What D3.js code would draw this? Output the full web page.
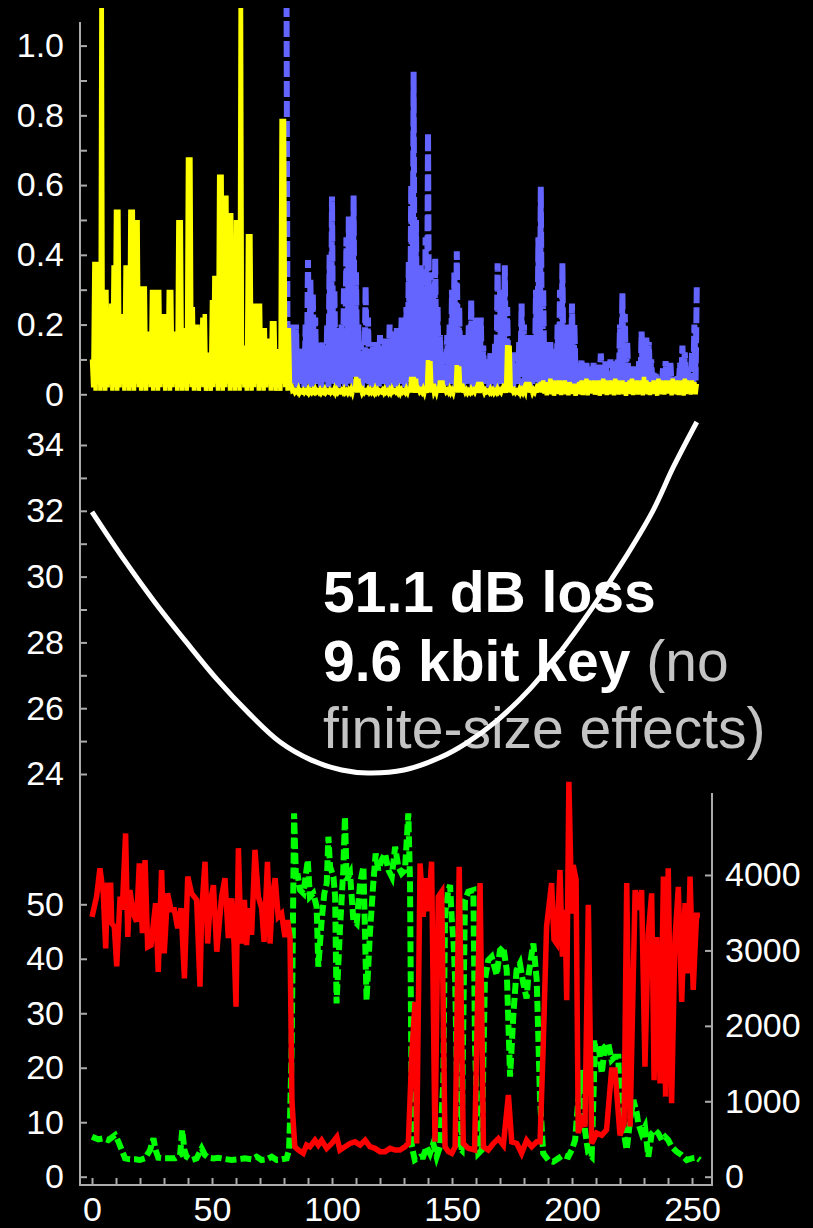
<!DOCTYPE html>
<html>
<head>
<meta charset="utf-8">
<script src="https://cdn.jsdelivr.net/npm/d3@7"></script>
<style>
  html, body { margin: 0; padding: 0; background: #000; }
  svg { display: block; }
</style>
</head>
<body>
<div id="chart"></div>
<script>
// ---- data ----
// top panel, yellow: upper value at each integer x (0..252), lower value at x + 0.5
var yellowHi = [
  0.10,0.38,0.38,0.19,1.3,0.30,0.30,0.14,0.26,0.37,
  0.53,0.53,0.16,0.23,0.37,0.37,0.53,0.53,0.50,0.50,
  0.14,0.31,0.31,0.18,0.18,0.30,0.30,0.30,0.30,0.23,
  0.23,0.23,0.30,0.30,0.18,0.18,0.50,0.50,0.19,0.19,
  0.68,0.68,0.25,0.20,0.20,0.11,0.22,0.23,0.12,0.12,
  0.27,0.34,0.34,0.63,0.63,0.57,0.57,0.52,0.52,0.37,
  0.50,0.50,1.3,0.14,0.14,0.46,0.46,0.21,0.26,0.26,
  0.26,0.19,0.19,0.16,0.16,0.21,0.21,0.13,0.13,0.79,
  0.79,0.19,0.19,0.03,0.012,0.010,0.015,0.010,0.012,0.010,
  0.014,0.010,0.012,0.015,0.010,0.012,0.010,0.014,0.010,0.012,
  0.010,0.015,0.012,0.010,0.012,0.014,0.010,0.012,0.015,0.020,
  0.050,0.045,0.015,0.012,0.010,0.014,0.012,0.010,0.015,0.012,
  0.010,0.012,0.014,0.010,0.012,0.015,0.010,0.012,0.014,0.012,
  0.010,0.015,0.020,0.050,0.050,0.045,0.015,0.012,0.015,0.020,
  0.098,0.095,0.030,0.015,0.020,0.040,0.040,0.015,0.012,0.015,
  0.012,0.020,0.084,0.080,0.030,0.015,0.012,0.010,0.014,0.012,
  0.015,0.035,0.035,0.015,0.012,0.010,0.014,0.012,0.010,0.015,
  0.012,0.015,0.030,0.141,0.140,0.015,0.012,0.010,0.014,0.012,
  0.015,0.035,0.035,0.015,0.012,0.015,0.030,0.035,0.040,0.030,
  0.035,0.045,0.040,0.035,0.040,0.040,0.035,0.040,0.030,0.035,
  0.030,0.025,0.030,0.035,0.040,0.035,0.045,0.040,0.035,0.040,
  0.030,0.040,0.035,0.045,0.040,0.035,0.040,0.035,0.045,0.040,
  0.035,0.040,0.030,0.035,0.040,0.045,0.035,0.040,0.035,0.040,
  0.050,0.040,0.035,0.030,0.040,0.035,0.045,0.040,0.035,0.040,
  0.035,0.040,0.045,0.035,0.040,0.035,0.040,0.045,0.040,0.035,
  0.040,0.035,0.030
];
var yellowLo = [
  0.02,0.01,0.03,0.01,0.02,0.01,0.02,0.03,0.01,0.02,
  0.01,0.02,0.03,0.01,0.02,0.01,0.02,0.01,0.03,0.02,
  0.01,0.02,0.01,0.03,0.02,0.01,0.02,0.01,0.02,0.03,
  0.01,0.02,0.01,0.02,0.03,0.01,0.02,0.01,0.02,0.01,
  0.03,0.02,0.01,0.02,0.01,0.03,0.02,0.01,0.02,0.01,
  0.02,0.03,0.01,0.02,0.01,0.02,0.03,0.01,0.02,0.01,
  0.02,0.01,0.03,0.02,0.01,0.02,0.01,0.02,0.03,0.01,
  0.02,0.01,0.02,0.03,0.01,0.02,0.01,0.02,0.01,0.03,
  0.02,0.01,0.02,0.01,0.005,0.006,0.004,0.007,0.005,0.006,
  0.004,0.005,0.007,0.006,0.005,0.004,0.006,0.005,0.007,0.005,
  0.006,0.004,0.005,0.007,0.006,0.005,0.004,0.006,0.005,0.007,
  0.005,0.006,0.004,0.005,0.007,0.006,0.005,0.004,0.006,0.005,
  0.007,0.005,0.006,0.004,0.005,0.007,0.006,0.005,0.004,0.006,
  0.005,0.007,0.005,0.006,0.004,0.005,0.007,0.006,0.005,0.004,
  0.006,0.005,0.007,0.005,0.006,0.004,0.005,0.007,0.006,0.005,
  0.004,0.006,0.005,0.007,0.005,0.006,0.004,0.005,0.007,0.006,
  0.005,0.004,0.006,0.005,0.007,0.005,0.006,0.004,0.005,0.007,
  0.006,0.005,0.004,0.006,0.005,0.007,0.005,0.006,0.004,0.005,
  0.007,0.006,0.005,0.004,0.006,0.005,0.007,0.005,0.002,-0.003,
  0.005,0.000,-0.004,0.004,0.001,-0.002,0.006,0.000,-0.003,0.003,
  0.001,-0.004,0.005,0.000,-0.002,0.004,-0.003,0.002,0.006,-0.001,
  0.003,-0.004,0.001,0.005,-0.002,0.000,0.004,-0.003,0.002,-0.001,
  0.005,0.000,-0.004,0.003,0.001,-0.002,0.006,-0.001,0.002,-0.003,
  0.004,0.000,-0.002,0.005,0.001,-0.004,0.003,0.000,-0.001,0.004,
  0.002,-0.003,0.005,0.000,-0.002,0.003,-0.004,0.001,0.004,-0.001,
  0.002,0.000
];
// top panel, blue dashed: starts at x = 81
var blueStart = 81;
var blueHi = [
  1.3,0.2,0.2,0.19,0.2,0.13,0.12,0.13,0.2,0.385,
  0.33,0.29,0.22,0.15,0.12,0.15,0.1,0.2,0.4,0.567,
  0.3,0.19,0.17,0.2,0.31,0.45,0.51,0.4,0.57,0.35,
  0.2,0.15,0.12,0.31,0.22,0.12,0.15,0.13,0.15,0.17,
  0.14,0.16,0.12,0.2,0.18,0.14,0.19,0.17,0.22,0.2,
  0.25,0.38,0.6,0.925,0.5,0.3,0.37,0.31,0.45,0.75,
  0.35,0.3,0.39,0.25,0.17,0.12,0.08,0.17,0.2,0.3,
  0.35,0.41,0.25,0.17,0.12,0.17,0.2,0.27,0.18,0.22,
  0.2,0.22,0.14,0.1,0.08,0.12,0.08,0.15,0.376,0.3,
  0.15,0.37,0.25,0.12,0.1,0.12,0.09,0.15,0.26,0.2,
  0.12,0.17,0.14,0.17,0.3,0.45,0.595,0.3,0.15,0.12,
  0.15,0.1,0.13,0.2,0.3,0.376,0.2,0.12,0.2,0.26,
  0.2,0.09,0.08,0.1,0.07,0.09,0.06,0.08,0.09,0.06,
  0.09,0.117,0.07,0.1,0.06,0.1,0.08,0.1,0.1,0.2,
  0.29,0.23,0.15,0.08,0.06,0.08,0.05,0.1,0.18,0.12,
  0.165,0.15,0.1,0.06,0.05,0.04,0.05,0.08,0.095,0.07,
  0.09,0.05,0.04,0.05,0.09,0.14,0.12,0.08,0.05,0.12,
  0.2,0.31
];
var blueLo = [
  0.03,0.02,0.04,0.03,0.02,0.05,0.03,0.02,0.04,0.03,
  0.02,0.04,0.03,0.05,0.02,0.03,0.04,0.02,0.03,0.05,
  0.03,0.02,0.04,0.03,0.02,0.04,0.03,0.05,0.02,0.03,
  0.04,0.02,0.03,0.05,0.03,0.02,0.04,0.03,0.02,0.04,
  0.03,0.05,0.02,0.03,0.04,0.02,0.03,0.05,0.03,0.02,
  0.04,0.03,0.02,0.04,0.03,0.05,0.02,0.03,0.04,0.02,
  0.03,0.05,0.03,0.02,0.04,0.03,0.02,0.04,0.03,0.05,
  0.02,0.03,0.04,0.02,0.03,0.05,0.03,0.02,0.04,0.03,
  0.02,0.04,0.03,0.05,0.02,0.03,0.04,0.02,0.03,0.05,
  0.03,0.02,0.04,0.03,0.02,0.04,0.03,0.05,0.02,0.03,
  0.04,0.02,0.03,0.05,0.03,0.02,0.04,0.03,0.02,0.04,
  0.03,0.05,0.02,0.03,0.04,0.02,0.03,0.05,0.03,0.02,
  0.04,0.03,0.02,0.04,0.03,0.05,0.02,0.03,0.04,0.02,
  0.03,0.05,0.03,0.02,0.04,0.03,0.02,0.04,0.03,0.05,
  0.02,0.03,0.04,0.02,0.03,0.05,0.03,0.02,0.04,0.03,
  0.02,0.04,0.03,0.05,0.02,0.03,0.04,0.02,0.03,0.05,
  0.03,0.02,0.04,0.03,0.02,0.04,0.03,0.05,0.02,0.03,
  0.04
];

// middle panel, white curve
var curveX = [0, 13.5, 26.4, 39.4, 52.3, 65.3, 78.2, 91.2, 104, 115, 130, 145, 156, 169, 182, 194.8, 207.8, 220.7, 233.7, 242.3, 252];
var curveY = [31.97, 30.5, 29.2, 28.0, 26.86, 25.85, 24.98, 24.43, 24.12, 24.03, 24.12, 24.5, 24.94, 25.64, 26.55, 27.68, 28.98, 30.4, 32.0, 33.34, 34.7];

// bottom panel, red (left axis)
var redX = [0,1.9,3.3,4.7,5.7,6.5,7.8,8.2,9.3,10.3,11.7,12.6,14,14.9,15.8,17.2,18.6,19.7,21,22.1,
  23.2,24.6,26.5,27.6,29,30.1,31.5,32.9,34.3,35.7,37.1,38.5,39.9,41.5,43.6,45,45.7,47.1,48.2,49.2,
  50.6,52,54,55.4,56.8,58.2,59.2,60,61,62.1,63.5,64.4,65.4,66.5,67.9,69.3,70.7,71.7,73.1,74.2,
  75.1,76.3,77.6,79,80.4,81.5,82.5,83.3,83.7,84.5,86,88,89.4,90.8,92.9,94.3,95.7,97.8,99.9,102,
  103.3,105.4,107.5,109.6,111.7,113.8,115.8,117.9,120,122.1,124.2,126.3,128.3,130.4,131.8,133.2,134.6,135.3,136.7,138,
  139.2,140.1,141.5,142.9,144.3,145.7,147.1,148.5,149.9,151.3,153,154.7,156.8,159.4,161.7,163.1,165.1,167.2,169.3,171.4,
  173.5,174.9,177,179,181.1,183.2,185.3,186.7,188,189.4,191.5,192.5,193.6,195,196,197.1,197.8,198.7,199.9,200.5,
  201.7,202.6,204,205.4,206.8,208.2,210.3,212.4,214.4,216.5,217.9,220,221.7,222.8,224.2,226.3,227.6,229,230.4,231.8,
  233.2,234.2,235.3,236.7,238.1,239,240.1,241.5,242.9,244.3,245.7,247.1,248.1,249.2,250.5,251.9,253.3];
var redY = [47.7,51.4,56.6,52,41.9,53.5,53.5,46.5,45.9,38.6,51.4,49,63,44,52.6,48.3,46.8,57.5,44.7,58.1,
  42.2,42.5,50.2,37.6,56.3,41,52,49,49,45.6,49.3,36.4,55.1,52,50.8,34.9,48.7,57.8,42.8,50.2,
  53.5,41.3,51.4,54.8,43.8,51.1,42.8,31.2,60.3,42.8,50.8,42.5,49.3,44.4,60,51.4,49.3,43.1,57.8,42.8,
  51.1,54.8,47.7,48.3,44,47.1,44,14,11,5.5,4.9,4.3,5.8,5.5,6.7,5.8,6.7,5.2,6.1,7.3,
  4.9,5.5,6.1,6.4,5.8,6.7,5.5,5.2,4.6,4.6,5.2,4.9,4.9,5.5,6.1,22,32.1,6.1,57.5,47.7,
  54.8,48.7,57.8,6.4,51.4,52.3,5.5,4.6,4.3,5.5,56.9,6.1,5.2,4.9,53.9,5.5,4.9,6.1,7,5.8,
  15,6.4,6.1,4.3,6.7,5.5,6.4,6.4,23.9,45.9,53.9,43.5,42.8,56.3,40.4,49,32.4,72.5,48.3,57.2,
  54.5,8,10.4,9.2,49.9,6.1,8,7.6,8.6,19.6,19.6,7.6,9.8,53.9,9.2,52.6,49,52.6,20.2,44.7,
  52,17.7,44,17.1,55.1,14.7,56.6,13.5,43.5,53.2,32.1,50.2,37.3,55.1,34.3,48,48];

// bottom panel, green dashed (right axis)
var greenX = [0,2.6,4.7,6.8,9.6,11,12.4,13.8,15.8,17.9,20,22.1,24.2,25.6,26.5,27.6,30.4,32.5,34.6,36.7,
  37.6,38.5,39.4,41.5,43.6,45.7,47.1,48.5,50.6,52.6,55.4,58.2,61,63.7,66.5,68.6,70.7,72.8,74.9,77,
  79,81.1,82.1,82.5,83.2,84.2,85,85.6,86.7,88.1,89,89.9,90.8,92.2,93.6,94.3,95.7,96.8,97.8,98.5,
  99.2,100.6,101.3,101.9,103.3,104.7,105.4,106.1,107.5,108.9,110.3,111.7,113.1,114.4,115.8,117.2,118.2,119.3,120.7,122.1,
  123.5,124.9,126.3,127.6,129,130.4,131.8,132.5,133.3,134.5,136.7,138,139.4,140.8,142.2,143.6,145,146.4,147.1,148.5,
  149.2,149.9,150.6,151.3,152.6,154,155.4,156.8,158.9,159.6,161,162.4,163.7,165.1,166.5,168.6,170,171.4,172.8,174.2,
  175.6,176.9,178.3,179.7,181.1,181.8,183.2,183.9,185.3,186.7,188,190.1,192.2,194.3,196.4,198.5,199.9,201.3,202.6,204,
  205.4,206.8,208.2,209.6,211,212.4,213.7,215.1,216.5,217.9,219.3,220,221.4,222.8,224.2,225.6,227,227.6,229,230.4,
  231.8,233.2,234.6,236,237.4,238.8,240.1,241.5,243.6,245.7,247.8,249.9,252,253.3];
var greenY = [530,495,508,486,552,464,354,243,230,230,221,243,354,508,354,252,243,243,243,287,
  619,354,265,221,243,376,287,252,243,252,234,221,230,243,230,265,221,230,265,221,
  230,243,354,751,1723,4817,3933,4020,3800,3756,3977,4198,3712,3756,3579,2784,3403,3756,3889,4507,
  4110,3977,3712,2298,3270,4065,4772,3933,4021,3403,3358,3889,4110,2342,3225,3889,4286,4065,4198,4286,
  4065,3977,4375,4110,4021,4065,4817,3933,398,221,265,265,398,309,442,265,398,1281,3491,3800,
  3867,3403,3137,2607,398,354,3668,3778,3800,1723,309,354,2607,2872,2917,2673,3005,3049,2740,1326,
  2165,2740,2828,2563,2364,2651,2961,3093,2607,1016,309,221,199,243,287,265,354,486,1016,1414,
  619,309,265,1768,1768,1370,1723,1768,1547,1591,1591,840,619,354,751,1016,840,707,574,663,
  265,574,619,574,486,530,486,398,331,287,221,243,252,221];

// tick values and labels
var topTicks = [0, 0.1, 0.2, 0.3, 0.4, 0.5, 0.6, 0.7, 0.8, 0.9, 1.0];
var topTickLabels = ["0", "", "0.2", "", "0.4", "", "0.6", "", "0.8", "", "1.0"];
var midTicks = [24, 25, 26, 27, 28, 29, 30, 31, 32, 33, 34];
var midTickLabels = ["24", "", "26", "", "28", "", "30", "", "32", "", "34"];
var leftTicks = [0, 10, 20, 30, 40, 50];
var rightTicks = [0, 1000, 2000, 3000, 4000];
var xTicks = [0,10,20,30,40,50,60,70,80,90,100,110,120,130,140,150,160,170,180,190,200,210,220,230,240,250];
var xTickLabels = ["0","","","","","50","","","","","100","","","","","150","","","","","200","","","","","250"];

// ---- drawing ----
var width = 813, height = 1228;
var font = "'Liberation Sans', Arial, Helvetica, sans-serif";
var axisColor = "#ababab";

var svg = d3.select("#chart")
  .append("svg")
    .attr("width", width)
    .attr("height", height)
    .style("background", "#000");

// scales (shared x, three y panels)
var x = d3.scaleLinear().domain([0, 250]).range([92, 692]);
var yTop = d3.scaleLinear().domain([0, 1]).range([394.3, 45.6]);
var yMid = d3.scaleLinear().domain([24, 34]).range([774, 445]);
var yLeft = d3.scaleLinear().domain([0, 50]).range([1176.7, 904.3]);
var yRight = d3.scaleLinear().domain([0, 4000]).range([1176.7, 875]);

svg.append("defs").append("clipPath").attr("id", "clipTop")
  .append("rect").attr("x", 80).attr("y", 8).attr("width", 632).attr("height", 412);

// zigzag points: value at x, then lower value at x + 0.5
function zigzag(x0, hi, lo) {
  var pts = [];
  hi.forEach(function (v, i) {
    pts.push([x0 + i, v]);
    if (i < lo.length) pts.push([x0 + i + 0.5, lo[i]]);
  });
  return pts;
}

var topLine = d3.line()
  .x(function (d) { return x(d[0]); })
  .y(function (d) { return yTop(d[1]); });

var topPanel = svg.append("g").attr("clip-path", "url(#clipTop)");
topPanel.append("path")
  .datum(zigzag(blueStart, blueHi, blueLo))
  .attr("d", topLine)
  .attr("fill", "none")
  .attr("stroke", "#6464ff")
  .attr("stroke-width", 6)
  .attr("stroke-dasharray", "16,4");
topPanel.append("path")
  .datum(zigzag(0, yellowHi, yellowLo))
  .attr("d", topLine)
  .attr("fill", "none")
  .attr("stroke", "#ffff00")
  .attr("stroke-width", 4.5);

// annotation
var note = svg.append("g")
  .style("font-family", font)
  .style("font-size", "57px");
note.append("text")
  .attr("x", 323).attr("y", 612)
  .attr("font-weight", "bold").attr("fill", "#fff")
  .text("51.1 dB loss");
var line2 = note.append("text").attr("x", 323).attr("y", 681);
line2.append("tspan").attr("font-weight", "bold").attr("fill", "#fff").text("9.6 kbit key");
line2.append("tspan").attr("fill", "#c4c4c4").text(" (no");
note.append("text")
  .attr("x", 323).attr("y", 748)
  .attr("fill", "#c4c4c4")
  .text("finite-size effects)");

// white curve
svg.append("path")
  .datum(curveX.map(function (v, i) { return [v, curveY[i]]; }))
  .attr("d", d3.line()
    .x(function (d) { return x(d[0]); })
    .y(function (d) { return yMid(d[1]); })
    .curve(d3.curveCatmullRom))
  .attr("fill", "none")
  .attr("stroke", "#fff")
  .attr("stroke-width", 5);

// bottom panel
svg.append("path")
  .datum(greenX.map(function (v, i) { return [v, greenY[i]]; }))
  .attr("d", d3.line()
    .x(function (d) { return x(d[0]); })
    .y(function (d) { return yRight(d[1]); }))
  .attr("fill", "none")
  .attr("stroke", "#00ff00")
  .attr("stroke-width", 6)
  .attr("stroke-dasharray", "11,4");
svg.append("path")
  .datum(redX.map(function (v, i) { return [v, redY[i]]; }))
  .attr("d", d3.line()
    .x(function (d) { return x(d[0]); })
    .y(function (d) { return yLeft(d[1]); }))
  .attr("fill", "none")
  .attr("stroke", "#ff0000")
  .attr("stroke-width", 5.5);

// axes
function styleAxis(g) {
  g.select(".domain").remove();
  g.selectAll(".tick line").attr("stroke", axisColor).attr("stroke-width", 2);
  g.selectAll(".tick text")
    .attr("fill", "#fff")
    .style("font-family", font)
    .style("font-size", "34px");
}

svg.append("g")
  .attr("transform", "translate(80,0)")
  .call(d3.axisLeft(yTop).tickValues(topTicks).tickSize(-7).tickPadding(16)
    .tickFormat(function (d, i) { return topTickLabels[i]; }))
  .call(styleAxis);
svg.append("g")
  .attr("transform", "translate(80,0)")
  .call(d3.axisLeft(yMid).tickValues(midTicks).tickSize(-7).tickPadding(16)
    .tickFormat(function (d, i) { return midTickLabels[i]; }))
  .call(styleAxis);
svg.append("g")
  .attr("transform", "translate(80,0)")
  .call(d3.axisLeft(yLeft).tickValues(leftTicks).tickSize(-7).tickPadding(16)
    .tickFormat(d3.format("d")))
  .call(styleAxis);
svg.append("g")
  .attr("transform", "translate(712,0)")
  .call(d3.axisRight(yRight).tickValues(rightTicks).tickSize(-7).tickPadding(13)
    .tickFormat(d3.format("d")))
  .call(styleAxis);
svg.append("g")
  .attr("transform", "translate(0,1185)")
  .call(d3.axisBottom(x).tickValues(xTicks).tickSize(-7).tickPadding(12)
    .tickFormat(function (d, i) { return xTickLabels[i]; }))
  .call(styleAxis);

// spines
var spines = svg.append("g").attr("stroke", axisColor).attr("stroke-width", 2);
spines.append("line").attr("x1", 80).attr("x2", 80).attr("y1", 22).attr("y2", 1186);
spines.append("line").attr("x1", 79).attr("x2", 713).attr("y1", 1185).attr("y2", 1185);
spines.append("line").attr("x1", 712).attr("x2", 712).attr("y1", 793).attr("y2", 1186);
</script>
</body>
</html>
